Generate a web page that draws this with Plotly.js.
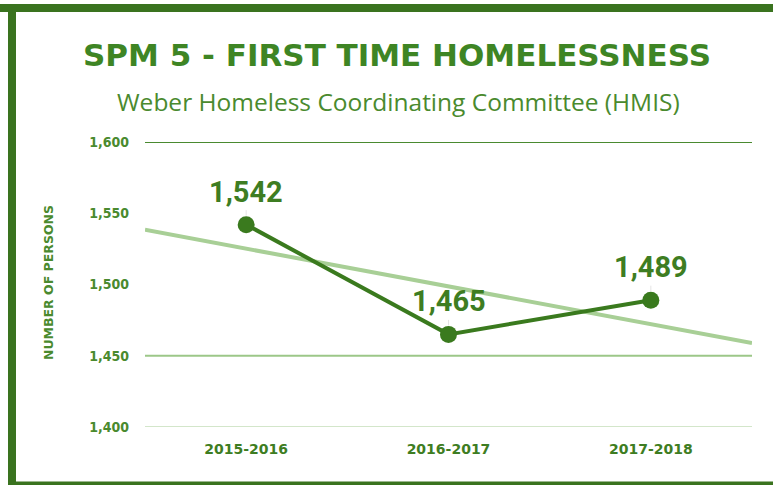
<!DOCTYPE html>
<html>
<head>
<meta charset="utf-8">
<script src="https://cdn.plot.ly/plotly-3.0.1.min.js"></script>
<style>
html,body{margin:0;padding:0;background:#fff;}
#chart{width:773px;height:485px;}
</style>
</head>
<body>
<div id="chart"></div>
<script>
// ---- data ----
const categories = ["2015-2016", "2016-2017", "2017-2018"];
const persons = [1542, 1465, 1489];
const gridValues = [1600, 1450, 1400];
const yTickValues = [1400, 1450, 1500, 1550, 1600];
const yTickLabels = ["1,400", "1,450", "1,500", "1,550", "1,600"];

// ---- layout constants (pixels) ----
const W = 773, H = 485;
const L = 145, R = 21, T = 142, B = 58;
const PW = W - L - R, PH = H - T - B;
const px = x => (x - L) / PW;
const py = y => (H - B - y) / PH;

const dark = "#3a7a1e";
const xIdx = categories.map((c, i) => i);

// least squares trendline from the data
const n = persons.length;
const mx = xIdx.reduce((a, b) => a + b, 0) / n;
const my = persons.reduce((a, b) => a + b, 0) / n;
let sxy = 0, sxx = 0;
for (let i = 0; i < n; i++) { sxy += (xIdx[i] - mx) * (persons[i] - my); sxx += (xIdx[i] - mx) ** 2; }
const slope = sxy / sxx, icpt = my - slope * mx;
const xRange = [-0.5, 2.5];
const trendX = [-0.5, 2.5];
const trendY = trendX.map(x => icpt + slope * x);

const fmt = v => v.toLocaleString("en-US");

const traces = [
  {
    x: trendX, y: trendY, mode: "lines", type: "scatter",
    line: {color: "#a8cf96", width: 4}, hoverinfo: "skip"
  },
  {
    x: xIdx, y: persons, mode: "lines+markers", type: "scatter",
    line: {color: dark, width: 4},
    marker: {color: dark, size: 17}
  }
];

const gridColors = ["#4a8a30", "#9cc788", "#d3e6ca"];
const shapes = gridValues.map((v, i) => ({
  type: "line", xref: "paper", yref: "y", x0: 0, x1: 1, y0: v, y1: v,
  line: {color: gridColors[i], width: 2}, layer: "below"
}));
// frame
const frame = "#3a731f";
shapes.push({type: "rect", xref: "paper", yref: "paper", x0: px(0), x1: px(W + 5), y0: py(4), y1: py(12), fillcolor: frame, line: {width: 0}});
shapes.push({type: "rect", xref: "paper", yref: "paper", x0: px(8), x1: px(16), y0: py(4), y1: py(H + 5), fillcolor: frame, line: {width: 0}});
shapes.push({type: "rect", xref: "paper", yref: "paper", x0: px(8), x1: px(W + 5), y0: py(481.5), y1: py(H + 5), fillcolor: frame, line: {width: 0}});

const annotations = persons.map((v, i) => ({
  x: xIdx[i], y: v, xref: "x", yref: "y", text: fmt(v),
  showarrow: true, ax: 0, ay: -33, arrowhead: 0, arrowwidth: 1, arrowcolor: "#e4e4e4", standoff: 9,
  font: {family: "Roboto", size: 29, color: "#3e7d22", weight: 700}
}));
annotations.push({
  xref: "paper", yref: "paper", x: px(398), y: py(101), text: "Weber Homeless Coordinating Committee (HMIS)",
  showarrow: false, xanchor: "center", yanchor: "middle",
  font: {family: "Open Sans", size: 24.5, color: "#4a8a2e"}
});
annotations.push({
  xref: "paper", yref: "paper", x: px(48), y: py(283), text: "NUMBER OF PERSONS", textangle: -90,
  showarrow: false, xanchor: "center", yanchor: "middle",
  font: {family: "DejaVu Sans", size: 12.5, color: "#4a8a2e", weight: 700}
});

const layout = {
  width: W, height: H,
  margin: {l: L, r: R, t: T, b: B, pad: 0},
  paper_bgcolor: "#fff", plot_bgcolor: "#fff",
  showlegend: false,
  title: {
    text: "SPM 5 - FIRST TIME HOMELESSNESS",
    x: px(397), xref: "paper", xanchor: "center",
    y: 1 - 55 / H, yref: "container", yanchor: "middle",
    font: {family: "DejaVu Sans", size: 31, color: "#3e8524", weight: 700}
  },
  xaxis: {
    range: xRange, tickvals: xIdx, ticktext: categories,
    showgrid: false, zeroline: false, showline: false, ticks: "",
    ticklabelstandoff: 12,
    tickfont: {family: "DejaVu Sans", size: 14, color: "#3e7d22", weight: 700}
  },
  yaxis: {
    range: [1400, 1600], tickvals: yTickValues, ticktext: yTickLabels,
    showgrid: false, zeroline: false, showline: false, ticks: "",
    ticklabelstandoff: 15,
    tickfont: {family: "DejaVu Sans Condensed", size: 14, color: "#4a8a2e", weight: 700}
  },
  shapes: shapes,
  annotations: annotations
};

Plotly.newPlot("chart", traces, layout, {displayModeBar: false, staticPlot: true});
</script>
</body>
</html>
